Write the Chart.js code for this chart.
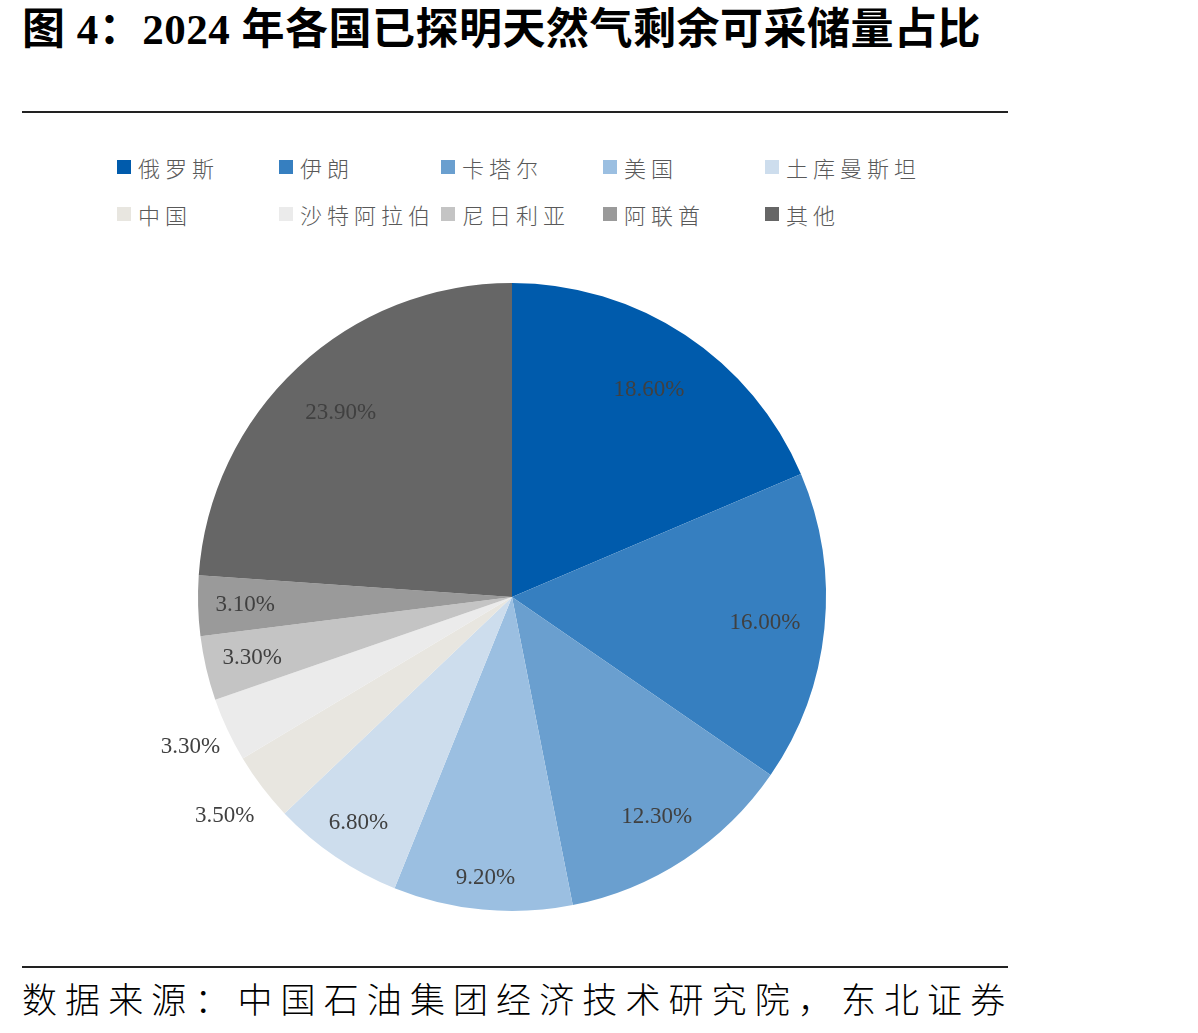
<!DOCTYPE html>
<html>
<head>
<meta charset="utf-8">
<script src="https://cdn.jsdelivr.net/npm/chart.js@4"></script>
<style>
  body { margin:0; background:#fff; width:1198px; height:1033px; position:relative; overflow:hidden;
         font-family:"Liberation Serif","Noto Sans CJK SC",serif; }
  #title { position:absolute; left:22px; top:-6px; font-size:43px; font-weight:bold; color:#000;
           white-space:nowrap; letter-spacing:0.5px; }
  .rule { position:absolute; left:22px; width:986px; height:2px; background:#222; }
  #legend { position:absolute; left:117px; top:152px; display:grid; grid-template-columns:repeat(5,162px);
            row-gap:17px; }
  .item { display:flex; align-items:center; height:30px; font-size:22px; color:#595959; letter-spacing:5px;
          white-space:nowrap; font-family:"Noto Sans CJK SC",sans-serif; font-weight:300; }
  .box { width:14px; height:14px; margin-right:7px; flex:none; }
  #wrap { position:absolute; left:0; top:240px; width:1024px; height:710px; }
  #source { position:absolute; left:22px; top:972px; font-size:35px; color:#000; letter-spacing:8.1px;
            white-space:nowrap; font-family:"Noto Sans CJK SC",sans-serif; font-weight:300; }
</style>
</head>
<body>
<div id="title">图 4：2024 年各国已探明天然气剩余可采储量占比</div>
<div class="rule" style="top:111px"></div>
<div id="legend"></div>
<div id="wrap"><canvas id="pie"></canvas></div>
<div class="rule" style="top:966px"></div>
<div id="source">数据来源：中国石油集团经济技术研究院，东北证券</div>
<script>
var countries = ['俄罗斯','伊朗','卡塔尔','美国','土库曼斯坦','中国','沙特阿拉伯','尼日利亚','阿联酋','其他'];
var shares = [18.6, 16.0, 12.3, 9.2, 6.8, 3.5, 3.3, 3.3, 3.1, 23.9];
var colors = ['#005BAC','#367FC0','#6A9FCF','#9BBFE1','#CDDDED','#E8E6E0','#EBEBEB','#C4C4C4','#9A9A9A','#666666'];

// html legend, 5 columns like the original
var legend = document.getElementById('legend');
countries.forEach(function(name, i){
    var item = document.createElement('div');
    item.className = 'item';
    var box = document.createElement('span');
    box.className = 'box';
    box.style.background = colors[i];
    item.appendChild(box);
    item.appendChild(document.createTextNode(name));
    legend.appendChild(item);
});

// label distance from centre, as a fraction of the radius (outside for 中国 / 沙特)
var labelRadius = [0.79, 0.81, 0.84, 0.9, 0.87, 1.15, 1.13, 0.85, 0.85, 0.8];

var pctLabels = {
    id: 'pctLabels',
    afterDatasetsDraw: function(chart){
        var ctx = chart.ctx;
        var meta = chart.getDatasetMeta(0);
        ctx.save();
        ctx.font = '23px "Liberation Serif", serif';
        ctx.fillStyle = '#404040';
        ctx.textAlign = 'center';
        ctx.textBaseline = 'middle';
        meta.data.forEach(function(arc, i){
            var p = arc.getProps(['x','y','startAngle','endAngle','outerRadius'], true);
            var mid = (p.startAngle + p.endAngle) / 2;
            var r = p.outerRadius * labelRadius[i];
            ctx.fillText(shares[i].toFixed(2) + '%', p.x + Math.cos(mid) * r, p.y + Math.sin(mid) * r);
        });
        ctx.restore();
    }
};

new Chart(document.getElementById('pie').getContext('2d'), {
    type: 'pie',
    data: {
        labels: countries,
        datasets: [{
            data: shares,
            backgroundColor: colors,
            borderWidth: 0
        }]
    },
    options: {
        responsive: true,
        maintainAspectRatio: false,
        animation: false,
        layout: { padding: { left: 198, right: 198, top: 43, bottom: 39 } },
        plugins: {
            legend: { display: false },
            tooltip: { enabled: false }
        }
    },
    plugins: [pctLabels]
});
</script>
</body>
</html>
